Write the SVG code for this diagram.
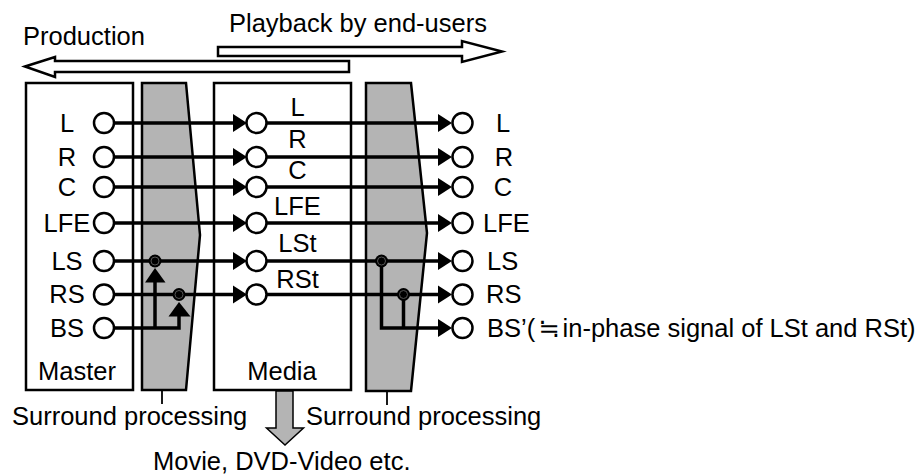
<svg xmlns="http://www.w3.org/2000/svg" width="919" height="475" viewBox="0 0 919 475">
<defs>
<style>
text{font-family:"Liberation Sans","DejaVu Sans",Arial,sans-serif;font-size:25.5px;fill:#000}
.m{text-anchor:middle}
.cjk{font-family:"Noto Sans CJK JP","DejaVu Sans",sans-serif}
.box{fill:#fff;stroke:#000;stroke-width:2.5}
.proc{fill:#b4b4b4;stroke:#000;stroke-width:2.5;stroke-linejoin:miter}
.pin{fill:#fff;stroke:#000;stroke-width:2.5}
.ln{fill:none;stroke:#000;stroke-width:3.5}
.thin{fill:none;stroke:#000;stroke-width:1.8}
.ah{fill:#000;stroke:none}
.dot{fill:#000;stroke:none}
.dotc{fill:none;stroke:#555;stroke-width:1}
.big{fill:#fff;stroke:#000;stroke-width:2.5;stroke-linejoin:miter}
</style>
</defs>
<rect width="919" height="475" fill="#fff"/>

<g id="direction-arrows">
<polygon class="big" points="218,47 462,47 462,41 502,51.5 462,62 462,56 218,56"/>
<text x="229" y="32">Playback by end-users</text>
<polygon class="big" points="25,66.5 55,57 55,61 349,61 349,72 55,72 55,77"/>
<text x="23" y="45">Production</text>
</g>

<g id="master">
<rect class="box" x="26" y="83" width="107" height="307"/>
<text class="m" x="77" y="380">Master</text>
<text class="m" x="67" y="131.5">L</text>
<text class="m" x="67" y="165.5">R</text>
<text class="m" x="67" y="195.5">C</text>
<text class="m" x="67" y="231.5">LFE</text>
<text class="m" x="67" y="269.5">LS</text>
<text class="m" x="67" y="303">RS</text>
<text class="m" x="67" y="336.5">BS</text>
</g>

<g id="surround-left">
<polygon class="proc" points="142,83 186,83 200,235 186,390 142,390"/>
<line class="thin" x1="162" y1="390" x2="162" y2="404"/>
<text x="12" y="425">Surround processing</text>
</g>

<g id="media">
<rect class="box" x="214" y="83" width="137" height="307"/>
<text class="m" x="282" y="380">Media</text>
<text class="m" x="297.5" y="116">L</text>
<text class="m" x="297.5" y="148">R</text>
<text class="m" x="297.5" y="179">C</text>
<text class="m" x="297.5" y="215">LFE</text>
<text class="m" x="297.5" y="252">LSt</text>
<text class="m" x="297.5" y="288">RSt</text>
</g>

<g id="surround-right">
<polygon class="proc" points="366,83 411,83 427,233 411,391 366,391"/>
<line class="thin" x1="387" y1="391" x2="387" y2="405"/>
<text x="306" y="425">Surround processing</text>
</g>

<g id="output">
<polygon fill="#b4b4b4" stroke="#000" stroke-width="1.5" points="276,391 293,391 293,428 303.5,428 285,445 266.5,428 276,428"/>
<text x="153" y="470">Movie, DVD-Video etc.</text>
</g>

<g id="connectors">
<path class="ln" d="M114,123H234M114,157H234M114,187H234M114,223H234M114,261H234M114,294.5H234"/>
<path class="ln" d="M114,328H179V316M155,328V282"/>
<polygon class="ah" points="233,114 247,123 233,132"/>
<polygon class="ah" points="233,148 247,157 233,166"/>
<polygon class="ah" points="233,178 247,187 233,196"/>
<polygon class="ah" points="233,214 247,223 233,232"/>
<polygon class="ah" points="233,252 247,261 233,270"/>
<polygon class="ah" points="233,285.5 247,294.5 233,303.5"/>
<polygon class="ah" points="145,282.5 155,268 165.5,282.5"/>
<polygon class="ah" points="168.5,316.5 179,302 190.5,316.5"/>
<circle class="dot" cx="155" cy="261" r="6.5"/><circle class="dotc" cx="155" cy="261" r="4"/>
<circle class="dot" cx="179" cy="294.5" r="6.5"/><circle class="dotc" cx="179" cy="294.5" r="4"/>
<path class="ln" d="M266,123H439M266,157H439M266,187H439M266,223H439M266,261H439M266,294.5H439"/>
<path class="ln" d="M381.5,261V328H439M403.5,294.5V328"/>
<polygon class="ah" points="438,114 452,123 438,132"/>
<polygon class="ah" points="438,148 452,157 438,166"/>
<polygon class="ah" points="438,178 452,187 438,196"/>
<polygon class="ah" points="438,214 452,223 438,232"/>
<polygon class="ah" points="438,252 452,261 438,270"/>
<polygon class="ah" points="438,285.5 452,294.5 438,303.5"/>
<polygon class="ah" points="438,319 452,328 438,337"/>
<circle class="dot" cx="381.5" cy="261" r="6.5"/><circle class="dotc" cx="381.5" cy="261" r="4"/>
<circle class="dot" cx="403.5" cy="294.5" r="6.5"/><circle class="dotc" cx="403.5" cy="294.5" r="4"/>
</g>

<g id="pins-master">
<circle class="pin" cx="104" cy="123" r="10"/>
<circle class="pin" cx="104" cy="157" r="10"/>
<circle class="pin" cx="104" cy="187" r="10"/>
<circle class="pin" cx="104" cy="223" r="10"/>
<circle class="pin" cx="104" cy="261" r="10"/>
<circle class="pin" cx="104" cy="294.5" r="10"/>
<circle class="pin" cx="104" cy="328" r="10"/>
</g>
<g id="pins-media">
<circle class="pin" cx="256.5" cy="123" r="10"/>
<circle class="pin" cx="256.5" cy="157" r="10"/>
<circle class="pin" cx="256.5" cy="187" r="10"/>
<circle class="pin" cx="256.5" cy="223" r="10"/>
<circle class="pin" cx="256.5" cy="261" r="10"/>
<circle class="pin" cx="256.5" cy="294.5" r="10"/>
</g>
<g id="playback">
<circle class="pin" cx="462.5" cy="123" r="10"/>
<circle class="pin" cx="462.5" cy="157" r="10"/>
<circle class="pin" cx="462.5" cy="187" r="10"/>
<circle class="pin" cx="462.5" cy="223" r="10"/>
<circle class="pin" cx="462.5" cy="261" r="10"/>
<circle class="pin" cx="462.5" cy="294.5" r="10"/>
<circle class="pin" cx="462.5" cy="328" r="10"/>
<text class="m" x="503" y="131.5">L</text>
<text class="m" x="504" y="165.5">R</text>
<text class="m" x="503" y="195.5">C</text>
<text x="483" y="231.5">LFE</text>
<text x="487" y="269.5">LS</text>
<text x="486" y="303">RS</text>
<text x="487" y="336.5">BS’(<tspan class="cjk" dx="3">≒</tspan><tspan dx="3">in-phase signal of LSt and RSt)</tspan></text>
</g>
</svg>
